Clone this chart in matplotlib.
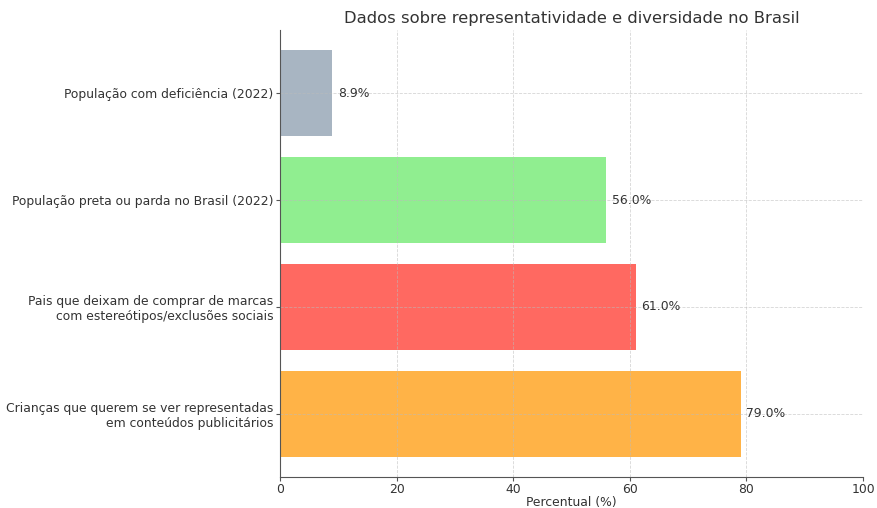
import matplotlib
matplotlib.use("Agg")
import matplotlib.pyplot as plt

categories = [
    "População com deficiência (2022)",
    "População preta ou parda no Brasil (2022)",
    "Pais que deixam de comprar de marcas\ncom estereótipos/exclusões sociais",
    "Crianças que querem se ver representadas\nem conteúdos publicitários",
]
values = [8.9, 56.0, 61.0, 79.0]
colors = ["#A8B5C2", "#90EE90", "#FF6961", "#FFB347"]
xticks = [0, 20, 40, 60, 80, 100]

fig = plt.figure(figsize=(8.77, 5.08), dpi=100)
ax = fig.add_axes([280/877, 1 - 477/508, (863-280)/877, (477-30)/508])

y = list(range(len(categories)))
ax.barh(y, values, color=colors, height=0.8, zorder=2)
ax.invert_yaxis()
ax.set_yticks(y)
ax.set_yticklabels(categories, fontsize=8.9, color="#333333")
ax.set_xlim(0, 100)
ax.set_xticks(xticks)
ax.set_xticklabels([str(t) for t in xticks], fontsize=8.9, color="#333333")
ax.set_xlabel("Percentual (%)", fontsize=8.9, color="#333333", labelpad=0)
ax.set_title("Dados sobre representatividade e diversidade no Brasil",
             fontsize=11.8, color="#333333", pad=5)

for yi, v in zip(y, values):
    ax.text(v + 1, yi, f"{v:.1f}%", va="center", ha="left", fontsize=8.9, color="#333333")

ax.grid(True, linestyle="--", color="#bbbbbb", linewidth=0.6, alpha=0.6, zorder=3)
ax.set_axisbelow(False)
for s in ["top", "right"]:
    ax.spines[s].set_visible(False)
for s in ["left", "bottom"]:
    ax.spines[s].set_color("#555555")
    ax.spines[s].set_zorder(5)
ax.tick_params(colors="#555555", labelcolor="#333333", pad=1.5, length=3)

fig.savefig("out.png", dpi=100)
